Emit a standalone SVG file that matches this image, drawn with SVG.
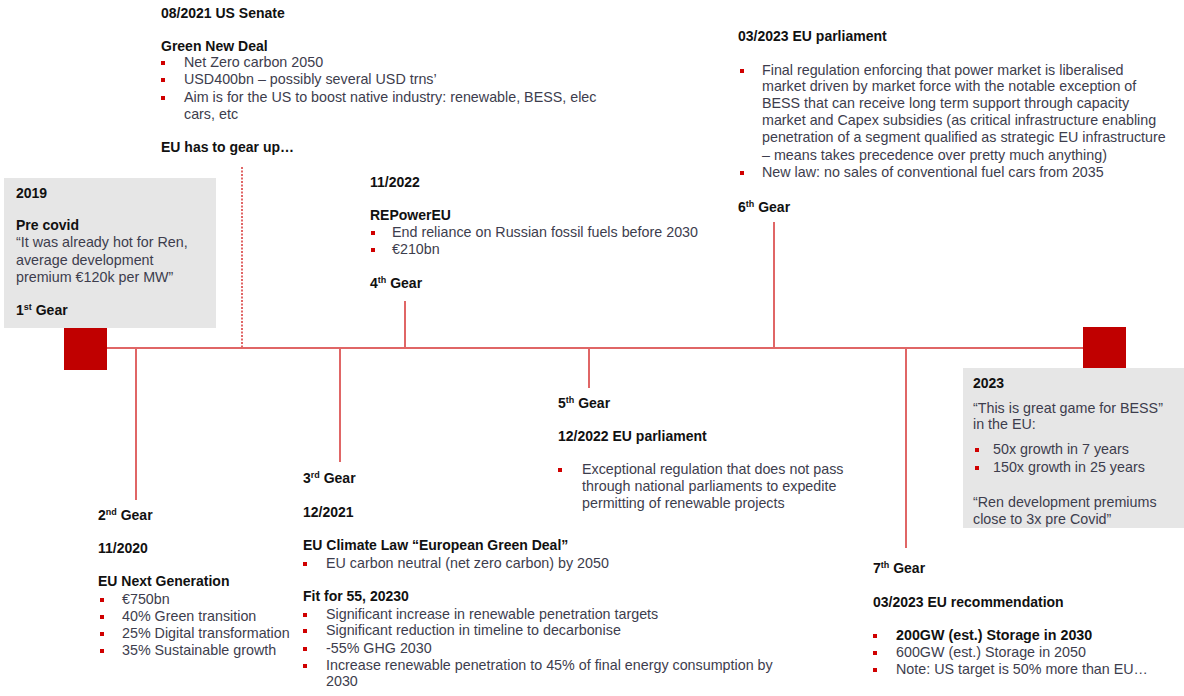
<svg xmlns="http://www.w3.org/2000/svg" width="1184" height="696" viewBox="0 0 1184 696">
<defs>
<style>
.h{font-family:"Liberation Sans",Arial,sans-serif;font-size:14px;font-weight:bold;fill:#111;}
.t{font-family:"Liberation Sans",Arial,sans-serif;font-size:14.3px;fill:#3d3d4d;}
.tb{font-family:"Liberation Sans",Arial,sans-serif;font-size:14.3px;font-weight:bold;fill:#111;}
.sup{font-size:9px;}
.bul{fill:#d00000;}
.box{fill:#e6e6e6;}
.mk{fill:#c00000;}
.ln{stroke:#e06666;stroke-width:2;fill:none;}
.dash{stroke:#e06666;stroke-width:2;stroke-dasharray:2 1.5;fill:none;}
</style>
<rect id="b" width="4" height="4" class="bul"/>
</defs>
<rect width="1184" height="696" fill="#fff"/>

<g id="connectors">
<line class="ln" x1="107" y1="348" x2="1083" y2="348"/>
<line class="ln" x1="136" y1="348" x2="136" y2="500"/>
<line class="dash" x1="242" y1="167" x2="242" y2="348"/>
<line class="ln" x1="340" y1="348" x2="340" y2="462"/>
<line class="ln" x1="405" y1="301" x2="405" y2="348"/>
<line class="ln" x1="589" y1="348" x2="589" y2="388"/>
<line class="ln" x1="774" y1="222" x2="774" y2="348"/>
<line class="ln" x1="906" y1="348" x2="906" y2="548"/>
</g>

<g id="n2019">
<rect class="box" x="4" y="178" width="212" height="150"/>
<text class="h" x="16" y="198">2019</text>
<text class="h" x="16" y="230">Pre covid</text>
<text class="t" x="16" y="247">“It was already hot for Ren,</text>
<text class="t" x="16" y="265">average development</text>
<text class="t" x="16" y="282">premium €120k per MW”</text>
<text class="h" x="16" y="315">1<tspan class="sup" dy="-5">st</tspan><tspan dy="5"> Gear</tspan></text>
</g>

<g id="start-marker">
<rect class="mk" x="64" y="328" width="43" height="42"/>
</g>

<g id="end-marker">
<rect class="mk" x="1083" y="327" width="43" height="41"/>
</g>

<g id="n2021-us">
<text class="h" x="161" y="18">08/2021 US Senate</text>
<text class="h" x="161" y="51">Green New Deal</text>
<use href="#b" x="161" y="61"/>
<text class="t" x="184" y="67">Net Zero carbon 2050</text>
<use href="#b" x="161" y="78"/>
<text class="t" x="184" y="84">USD400bn – possibly several USD trns’</text>
<use href="#b" x="161" y="96"/>
<text class="t" x="184" y="102">Aim is for the US to boost native industry: renewable, BESS, elec</text>
<text class="t" x="184" y="119">cars, etc</text>
<text class="h" x="161" y="152">EU has to gear up…</text>
</g>

<g id="n2022-nov">
<text class="h" x="370" y="187">11/2022</text>
<text class="h" x="370" y="220">REPowerEU</text>
<use href="#b" x="371" y="231"/>
<text class="t" x="392" y="237">End reliance on Russian fossil fuels before 2030</text>
<use href="#b" x="371" y="248"/>
<text class="t" x="392" y="254">€210bn</text>
<text class="h" x="370" y="288">4<tspan class="sup" dy="-5">th</tspan><tspan dy="5"> Gear</tspan></text>
</g>

<g id="n2023-parl">
<text class="h" x="738" y="41">03/2023 EU parliament</text>
<use href="#b" x="740" y="69"/>
<text class="t" x="762" y="75">Final regulation enforcing that power market is liberalised</text>
<text class="t" x="762" y="91">market driven by market force with the notable exception of</text>
<text class="t" x="762" y="108">BESS that can receive long term support through capacity</text>
<text class="t" x="762" y="125">market and Capex subsidies (as critical infrastructure enabling</text>
<text class="t" x="762" y="142">penetration of a segment qualified as strategic EU infrastructure</text>
<text class="t" x="762" y="160">– means takes precedence over pretty much anything)</text>
<use href="#b" x="740" y="171"/>
<text class="t" x="762" y="177">New law: no sales of conventional fuel cars from 2035</text>
<text class="h" x="738" y="212">6<tspan class="sup" dy="-5">th</tspan><tspan dy="5"> Gear</tspan></text>
</g>

<g id="n2020">
<text class="h" x="98" y="520">2<tspan class="sup" dy="-5">nd</tspan><tspan dy="5"> Gear</tspan></text>
<text class="h" x="98" y="553">11/2020</text>
<text class="h" x="98" y="586">EU Next Generation</text>
<use href="#b" x="100" y="598"/>
<text class="t" x="122" y="604">€750bn</text>
<use href="#b" x="100" y="615"/>
<text class="t" x="122" y="621">40% Green transition</text>
<use href="#b" x="100" y="632"/>
<text class="t" x="122" y="638">25% Digital transformation</text>
<use href="#b" x="100" y="649"/>
<text class="t" x="122" y="655">35% Sustainable growth</text>
</g>

<g id="n2021-eu">
<text class="h" x="303" y="483">3<tspan class="sup" dy="-5">rd</tspan><tspan dy="5"> Gear</tspan></text>
<text class="h" x="303" y="517">12/2021</text>
<text class="h" x="303" y="550">EU Climate Law “European Green Deal”</text>
<use href="#b" x="303" y="562"/>
<text class="t" x="326" y="568">EU carbon neutral (net zero carbon) by 2050</text>
<text class="h" x="303" y="601">Fit for 55, 20230</text>
<use href="#b" x="303" y="613"/>
<text class="t" x="326" y="619">Significant increase in renewable penetration targets</text>
<use href="#b" x="303" y="629"/>
<text class="t" x="326" y="635">Significant reduction in timeline to decarbonise</text>
<use href="#b" x="303" y="647"/>
<text class="t" x="326" y="653">-55% GHG 2030</text>
<use href="#b" x="303" y="664"/>
<text class="t" x="326" y="670">Increase renewable penetration to 45% of final energy consumption by</text>
<text class="t" x="326" y="686">2030</text>
</g>

<g id="n2022-dec">
<text class="h" x="558" y="408">5<tspan class="sup" dy="-5">th</tspan><tspan dy="5"> Gear</tspan></text>
<text class="h" x="558" y="441">12/2022 EU parliament</text>
<use href="#b" x="558" y="468"/>
<text class="t" x="582" y="474">Exceptional regulation that does not pass</text>
<text class="t" x="582" y="491">through national parliaments to expedite</text>
<text class="t" x="582" y="508">permitting of renewable projects</text>
</g>

<g id="n2023-rec">
<text class="h" x="873" y="573">7<tspan class="sup" dy="-5">th</tspan><tspan dy="5"> Gear</tspan></text>
<text class="h" x="873" y="607">03/2023 EU recommendation</text>
<use href="#b" x="873" y="634"/>
<text class="tb" x="896" y="640">200GW (est.) Storage in 2030</text>
<use href="#b" x="873" y="651"/>
<text class="t" x="896" y="657">600GW (est.) Storage in 2050</text>
<use href="#b" x="873" y="668"/>
<text class="t" x="896" y="674">Note: US target is 50% more than EU…</text>
</g>

<g id="n2023">
<rect class="box" x="963" y="368" width="221" height="160"/>
<text class="h" x="973" y="388">2023</text>
<text class="t" x="973" y="413">“This is great game for BESS”</text>
<text class="t" x="973" y="429">in the EU:</text>
<use href="#b" x="975" y="448"/>
<text class="t" x="993" y="454">50x growth in 7 years</text>
<use href="#b" x="975" y="466"/>
<text class="t" x="993" y="472">150x growth in 25 years</text>
<text class="t" x="973" y="507">“Ren development premiums</text>
<text class="t" x="973" y="524">close to 3x pre Covid”</text>
</g>
</svg>
